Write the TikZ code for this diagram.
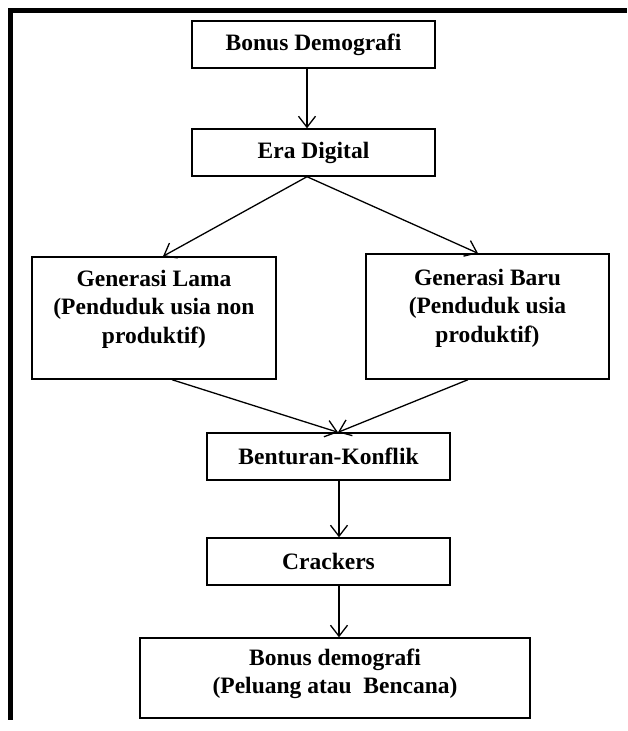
\documentclass[tikz,border=0pt]{standalone}
\usepackage{fontspec}
\setmainfont{Liberation Serif}
\usetikzlibrary{arrows.meta,calc}
\tikzset{
  boxnode/.style={draw, line width=1.4pt, inner sep=0pt, anchor=center},
  txt/.style={font=\bfseries\fontsize{23.5}{28.5}\selectfont, align=center, inner sep=0pt, anchor=center},
  conn/.style={line width=1.3pt, -{Straight Barb[length=11pt,width=17pt,line width=1.3pt]}},
  frameline/.style={line width=5pt}
}
\begin{document}
\begin{tikzpicture}[x=1pt,y=-1pt]
\useasboundingbox[fill=white] (0,0) rectangle (627,731);
% outer frame (top and left visible)
\draw[frameline] (8,10.5) -- (627,10.5);
\draw[frameline] (10.5,8) -- (10.5,720);

% boxes
\node[boxnode, minimum width=243pt, minimum height=47pt, txt] (bd) at (313.5,44.5) {Bonus Demografi};
\node[boxnode, minimum width=243pt, minimum height=47pt, txt] (ed) at (313.5,152.5) {Era Digital};
\node[boxnode, minimum width=244pt, minimum height=122pt] (gl) at (154,318) {};
\node[txt] (gltext) at (154,309) {Generasi Lama\\(Penduduk usia non\\produktif)};
\node[boxnode, minimum width=243pt, minimum height=125pt] (gb) at (487.5,316.5) {};
\node[txt] (gbtext) at (487.5,308) {Generasi Baru\\(Penduduk usia\\produktif)};
\node[boxnode, minimum width=243pt, minimum height=47pt, txt] (bk) at (328.5,456.5) {Benturan-Konflik};
\node[boxnode, minimum width=243pt, minimum height=47pt, txt] (cr) at (328.5,561.5) {Crackers};
\node[boxnode, minimum width=390pt, minimum height=80pt] (bb) at (335,678) {};
\node[txt] (bbtext) at (335,674) {Bonus demografi\\(Peluang atau\ \ Bencana)};

% connectors
\draw[conn] ([xshift=-6.5pt]bd.south) -- ([xshift=-6.5pt]ed.north);
\draw[conn] ([xshift=-6.5pt]ed.south) -- ([xshift=9pt]gl.north);
\draw[conn] ([xshift=-6.5pt]ed.south) -- ([xshift=-9.5pt]gb.north);
\draw[conn] ([xshift=18pt]gl.south) -- ([xshift=9.5pt]bk.north);
\draw[conn] ([xshift=-19.5pt]gb.south) -- ([xshift=9.5pt]bk.north);
\draw[conn] ([xshift=10.5pt]bk.south) -- ([xshift=10.5pt]cr.north);
\draw[conn] ([xshift=10.5pt]cr.south) -- ([xshift=4pt]bb.north);
\end{tikzpicture}
\end{document}
